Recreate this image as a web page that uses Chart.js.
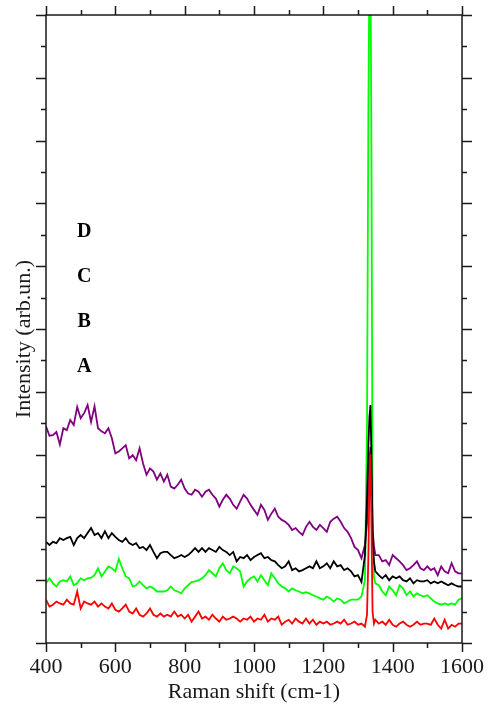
<!DOCTYPE html>
<html>
<head>
<meta charset="utf-8">
<script src="https://cdn.jsdelivr.net/npm/chart.js@4.4.1/dist/chart.umd.min.js"></script>
<style>
  html, body { margin: 0; padding: 0; background: #fff; }
  #spectra { display: block; }
</style>
</head>
<body>
<canvas id="spectra" width="491" height="707"></canvas>
<script>
// Raman shift grid (cm-1), denser around the diamond line
const wavenumber = [
  400, 410, 420, 430, 440, 450, 460, 470, 480, 490,
  500, 510, 520, 530, 540, 550, 560, 570, 580, 590,
  600, 610, 620, 630, 640, 650, 660, 670, 680, 690,
  700, 710, 720, 730, 740, 750, 760, 770, 780, 790,
  800, 810, 820, 830, 840, 850, 860, 870, 880, 890,
  900, 910, 920, 930, 940, 950, 960, 970, 980, 990,
  1000, 1010, 1020, 1030, 1040, 1050, 1060, 1070, 1080, 1090,
  1100, 1110, 1120, 1130, 1140, 1150, 1160, 1170, 1180, 1190,
  1200, 1210, 1220, 1230, 1240, 1250, 1260, 1270, 1280, 1290,
  1300, 1310, 1320, 1326, 1330, 1333, 1336, 1339, 1342, 1346, 1350,
  1360, 1370, 1380, 1390,
  1400, 1410, 1420, 1430, 1440, 1450, 1460, 1470, 1480, 1490,
  1500, 1510, 1520, 1530, 1540, 1550, 1560, 1570, 1580, 1590,
  1600
];

const sampleA = [
  0.69, 0.58, 0.61, 0.66, 0.63, 0.61, 0.69, 0.63, 0.61, 0.82,
  0.55, 0.66, 0.63, 0.61, 0.66, 0.58, 0.63, 0.58, 0.55, 0.63,
  0.53, 0.50, 0.55, 0.61, 0.50, 0.47, 0.55, 0.45, 0.42, 0.47,
  0.55, 0.45, 0.42, 0.47, 0.42, 0.45, 0.42, 0.50, 0.42, 0.45,
  0.39, 0.45, 0.34, 0.42, 0.50, 0.39, 0.42, 0.37, 0.45, 0.39,
  0.34, 0.42, 0.37, 0.39, 0.42, 0.39, 0.34, 0.39, 0.37, 0.42,
  0.34, 0.39, 0.37, 0.45, 0.34, 0.39, 0.37, 0.42, 0.29, 0.34,
  0.37, 0.31, 0.39, 0.34, 0.31, 0.39, 0.31, 0.37, 0.29, 0.34,
  0.31, 0.34, 0.29, 0.31, 0.34, 0.31, 0.37, 0.29, 0.31, 0.34,
  0.29, 0.31, 0.26, 0.45, 1.40, 2.60, 3.00, 1.80, 0.50, 0.31, 0.37,
  0.31, 0.34, 0.29, 0.37,
  0.29, 0.26, 0.31, 0.34, 0.29, 0.26, 0.29, 0.34, 0.29, 0.31,
  0.31, 0.29, 0.39, 0.29, 0.23, 0.37, 0.23, 0.29, 0.26, 0.31,
  0.31
];

const sampleB = [
  0.95, 1.03, 0.95, 0.90, 0.98, 1.00, 0.98, 1.06, 0.92, 0.95,
  1.03, 1.00, 1.03, 1.04, 1.08, 1.19, 1.06, 1.14, 1.22, 1.19,
  1.14, 1.34, 1.19, 1.06, 1.03, 0.90, 0.92, 0.98, 0.92, 0.87,
  0.90, 0.87, 0.82, 0.82, 0.82, 0.84, 0.90, 0.84, 0.82, 0.79,
  0.87, 0.92, 0.97, 0.98, 1.00, 1.03, 1.08, 1.16, 1.11, 1.06,
  1.19, 1.27, 1.16, 1.11, 1.22, 1.19, 1.14, 0.90, 0.98, 1.03,
  1.06, 0.98, 1.08, 1.00, 0.92, 1.11, 1.03, 0.95, 0.90, 0.87,
  0.82, 0.87, 0.84, 0.82, 0.79, 0.81, 0.79, 0.76, 0.74, 0.71,
  0.69, 0.74, 0.71, 0.66, 0.71, 0.69, 0.63, 0.66, 0.69, 0.69,
  0.69, 0.74, 1.00, 3.50, 8.50, 10.8, 11.0, 7.50, 2.20, 1.05, 0.95,
  0.92, 0.82, 0.76, 0.90,
  0.84, 0.76, 0.92, 0.87, 0.76, 0.82, 0.74, 0.79, 0.76, 0.74,
  0.76, 0.71, 0.66, 0.63, 0.61, 0.63, 0.61, 0.63, 0.61, 0.69,
  0.71
];

const sampleC = [
  1.61, 1.56, 1.61, 1.59, 1.67, 1.64, 1.67, 1.69, 1.56, 1.67,
  1.72, 1.67, 1.75, 1.83, 1.72, 1.75, 1.67, 1.78, 1.67, 1.75,
  1.69, 1.64, 1.61, 1.67, 1.59, 1.56, 1.59, 1.51, 1.53, 1.48,
  1.56, 1.45, 1.35, 1.43, 1.45, 1.45, 1.40, 1.35, 1.37, 1.40,
  1.37, 1.40, 1.45, 1.51, 1.45, 1.51, 1.45, 1.51, 1.48, 1.45,
  1.53, 1.48, 1.45, 1.40, 1.45, 1.30, 1.37, 1.35, 1.40, 1.32,
  1.37, 1.40, 1.43, 1.35, 1.37, 1.32, 1.30, 1.24, 1.19, 1.22,
  1.30, 1.16, 1.19, 1.14, 1.16, 1.19, 1.22, 1.19, 1.30, 1.19,
  1.22, 1.27, 1.19, 1.30, 1.22, 1.24, 1.16, 1.19, 1.14, 1.06,
  1.08, 0.97, 1.40, 2.30, 3.15, 3.60, 3.79, 2.90, 1.70, 1.30, 1.14,
  1.08, 1.03, 1.08, 1.00,
  1.06, 1.03, 1.06, 1.00, 0.98, 1.03, 0.95, 1.00, 0.98, 0.98,
  1.00, 0.95, 0.98, 0.95, 0.98, 0.95, 0.92, 0.95, 0.92, 0.90,
  0.90
];

const sampleD = [
  3.45, 3.30, 3.31, 3.36, 3.16, 3.42, 3.39, 3.55, 3.47, 3.76,
  3.58, 3.66, 3.79, 3.52, 3.77, 3.42, 3.37, 3.34, 3.42, 3.26,
  3.02, 3.05, 3.10, 3.15, 2.94, 2.99, 2.91, 3.10, 2.86, 2.68,
  2.78, 2.73, 2.60, 2.70, 2.57, 2.68, 2.49, 2.46, 2.52, 2.60,
  2.46, 2.38, 2.36, 2.44, 2.41, 2.33, 2.41, 2.44, 2.36, 2.30,
  2.17, 2.28, 2.36, 2.30, 2.20, 2.14, 2.25, 2.36, 2.30, 2.20,
  2.12, 2.04, 2.20, 2.12, 1.96, 2.06, 2.14, 2.01, 1.96, 1.93,
  1.88, 1.80, 1.83, 1.77, 1.72, 1.85, 1.93, 1.85, 1.80, 1.88,
  1.83, 1.77, 1.93, 1.98, 2.01, 1.93, 1.83, 1.77, 1.67, 1.53,
  1.48, 1.35, 1.56, 1.90, 2.50, 2.90, 3.12, 2.50, 1.80, 1.55, 1.40,
  1.40, 1.30, 1.32, 1.24,
  1.40, 1.35, 1.30, 1.24, 1.16, 1.19, 1.24, 1.30, 1.19, 1.16,
  1.22, 1.16, 1.19, 1.08, 1.22, 1.14, 1.11, 1.27, 1.14, 1.11,
  1.11
];

const sampleNames = ['A', 'B', 'C', 'D'];
const xTicks = [400, 600, 800, 1000, 1200, 1400, 1600];

const serif = "'Liberation Serif', 'Times New Roman', serif";
const ink = '#1a1a1a';

function series(values) {
  return wavenumber.map((w, i) => ({ x: w, y: values[i] }));
}

function spectrum(values, color, order) {
  return {
    data: series(values),
    borderColor: color,
    borderWidth: 1.8,
    pointRadius: 0,
    tension: 0,
    fill: false,
    clip: 0,
    order: order
  };
}

// box frame with outward ticks on all four sides, the y title and the sample letters
const frameAndTicks = {
  id: 'frameAndTicks',
  afterDraw(chart) {
    const { ctx, chartArea: a, scales: { x, y } } = chart;
    ctx.save();
    ctx.strokeStyle = ink;
    ctx.lineWidth = 1.5;
    ctx.strokeRect(a.left, a.top, a.right - a.left, a.bottom - a.top);
    ctx.beginPath();
    for (let v = 400; v <= 1600; v += 100) {
      const px = Math.round(x.getPixelForValue(v)) + 0.5;
      const len = v % 200 === 0 ? 9 : 5;
      ctx.moveTo(px, a.bottom); ctx.lineTo(px, a.bottom + len);
      ctx.moveTo(px, a.top); ctx.lineTo(px, a.top - len);
    }
    for (let k = 0; k <= 20; k++) {
      const py = Math.round(y.getPixelForValue(k / 2)) + 0.5;
      const len = k % 2 === 0 ? 10 : 5;
      ctx.moveTo(a.left, py); ctx.lineTo(a.left - len, py);
      ctx.moveTo(a.right, py); ctx.lineTo(a.right + len, py);
    }
    ctx.stroke();

    ctx.textAlign = 'center';
    ctx.textBaseline = 'middle';

    ctx.save();
    ctx.fillStyle = ink;
    ctx.font = '22px ' + serif;
    ctx.translate(24, y.getPixelForValue(4.84));
    ctx.rotate(-Math.PI / 2);
    ctx.fillText('Intensity (arb.un.)', 0, 0);
    ctx.restore();

    ctx.fillStyle = '#000';
    ctx.font = 'bold 20px ' + serif;
    sampleNames.forEach((name, i) => {
      ctx.fillText(name, x.getPixelForValue(510), y.getPixelForValue(4.40 + i * 0.717));
    });
    ctx.restore();
  }
};

const chart = new Chart(document.getElementById('spectra'), {
  type: 'line',
  data: {
    datasets: [
      spectrum(sampleA, '#ff0000', 1),
      spectrum(sampleC, '#000000', 2),
      spectrum(sampleD, '#800080', 3),
      spectrum(sampleB, '#00ff00', 4)
    ]
  },
  options: {
    responsive: false,
    devicePixelRatio: 1,
    animation: false,
    layout: { padding: { top: 15, right: 29, left: 0, bottom: 0 } },
    plugins: { legend: { display: false }, tooltip: { enabled: false } },
    scales: {
      x: {
        type: 'linear',
        min: 400,
        max: 1600,
        afterBuildTicks: scale => { scale.ticks = xTicks.map(v => ({ value: v })); },
        afterFit: scale => {
          scale.height = 64;
          // end labels may hang past the frame; the layout padding covers them
          scale.paddingLeft = 0;
          scale.paddingRight = 0;
        },
        ticks: {
          color: ink,
          font: { family: serif, size: 22 },
          padding: 11,
          maxRotation: 0,
          callback: v => String(v)
        },
        grid: { display: false, drawTicks: false },
        border: { display: false },
        title: {
          display: true,
          text: 'Raman shift (cm-1)',
          color: ink,
          font: { family: serif, size: 22 },
          padding: { top: 0, bottom: 2 }
        }
      },
      y: {
        min: 0,
        max: 10,
        afterFit: scale => { scale.width = 46; },
        ticks: { display: false },
        grid: { display: false, drawTicks: false },
        border: { display: false },
        title: { display: false }
      }
    }
  },
  plugins: [frameAndTicks]
});
</script>
</body>
</html>
